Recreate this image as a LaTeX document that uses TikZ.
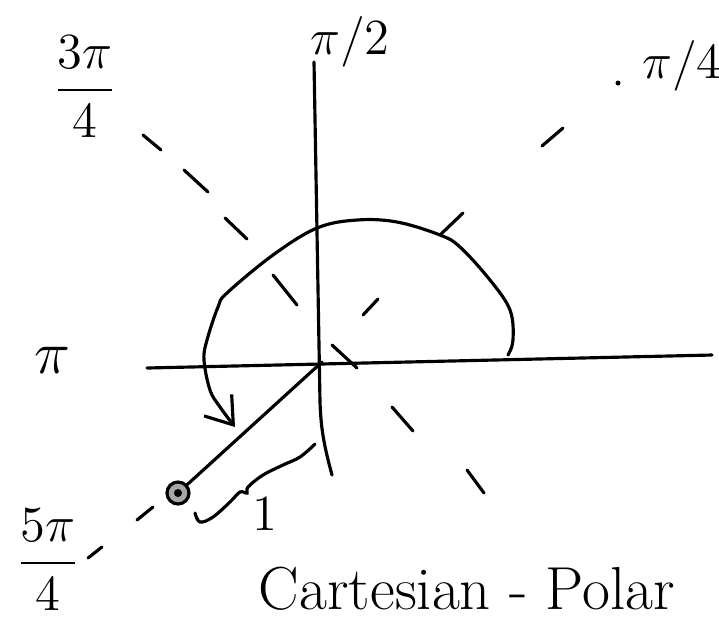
\documentclass[tikz,border=0pt]{standalone}
\usepackage{amsmath}
\usetikzlibrary{arrows.meta}

\begin{document}
\begin{tikzpicture}[
  trazo/.style={line width=0.9pt, line cap=round},
  etiq/.style={font=\Large, inner sep=0pt},
  punta/.style={-{Straight Barb[length=2.5mm, width=3.5mm]}},
  punto/.style={circle, draw, line width=0.9pt, fill=gray!70, minimum size=0.22cm, inner sep=0pt},
]
  \useasboundingbox (-3.22,-2.63) rectangle (3.97,3.62);
  % Ejes
  \coordinate (o)    at ( 0.00, 0.00);
  \coordinate (xizq) at (-1.75,-0.06);
  \coordinate (xder) at ( 3.90, 0.07);
  \coordinate (ysup) at (-0.08, 3.00);
  \coordinate (ymed) at (-0.02,-0.40);
  \coordinate (yinf) at ( 0.10,-1.13);
  \draw[trazo] (xizq) -- (xder);
  \draw[trazo] (ysup) -- (ymed) to[out=-88,in=105] (yinf);
  % Etiquetas de angulos
  \node[etiq] (pi2)  at ( 0.28, 3.20) {$\pi/2$};
  \node[etiq] (pi4)  at ( 3.60, 2.96) {$\pi/4$};
  \node[etiq] (tpi4) at (-2.37, 2.75) {$\dfrac{3\pi}{4}$};
  \node[etiq, font=\LARGE] (pi) at (-2.70, 0.02) {$\pi$};
  \node[etiq] (cpi4) at (-2.74,-1.98) {$\dfrac{5\pi}{4}$};
  % Rayos punteados a mano
  \draw[trazo] (-1.79, 2.27) -- (-1.61, 2.12);
  \draw[trazo] (-1.38, 1.92) -- (-1.14, 1.70);
  \draw[trazo] (-0.97, 1.44) -- (-0.75, 1.23);
  \draw[trazo] (-0.49, 0.87) -- (-0.25, 0.57);
  \draw[trazo] ( 0.41, 0.47) -- ( 0.56, 0.63);
  \draw[trazo] ( 1.18, 1.27) -- ( 1.41, 1.49);
  \draw[trazo] ( 2.20, 2.16) -- ( 2.41, 2.34);
  \fill (2.96, 2.79) circle (0.025);
  \draw[trazo] ( 0.10, 0.17) -- ( 0.35,-0.06);
  \draw[trazo] ( 0.70,-0.45) -- ( 0.91,-0.69);
  \draw[trazo] ( 1.45,-1.08) -- ( 1.62,-1.31);
  \draw[trazo] (-1.85,-1.58) -- (-1.69,-1.45);
  \draw[trazo] (-2.34,-1.96) -- (-2.20,-1.85);
  % Curva con flecha
  \draw[trazo, punta] plot[smooth, tension=0.6] coordinates {
    (1.86,0.07) (1.91,0.22) (1.88,0.52) (1.68,0.82) (1.38,1.15) (1.18,1.27)
    (0.75,1.40) (0.35,1.42) (-0.05,1.34) (-0.49,1.07) (-0.95,0.69) (-1.04,0.55)
    (-1.15,0.22) (-1.18,0.02) (-1.12,-0.28) (-1.02,-0.45) (-0.87,-0.65)};
  % Punto y radio
  \node[punto] (p) at (-1.44,-1.31) {};
  \fill (p) circle (0.04);
  \draw[trazo] (o) -- (p);
  % Llave ondulada y radio 1
  \draw[trazo] plot[smooth, tension=0.6] coordinates {
    (-0.07,-0.82) (-0.22,-0.95) (-0.39,-1.03) (-0.59,-1.13) (-0.74,-1.25)
    (-0.75,-1.31) (-0.82,-1.30) (-0.92,-1.40) (-1.09,-1.55) (-1.22,-1.60) (-1.27,-1.51)};
  \node[etiq] (uno) at (-0.57,-1.52) {1};
  % Titulo
  \node[font=\LARGE, anchor=base] (tit) at (1.45,-2.47) {Cartesian - Polar};
\end{tikzpicture}
\end{document}
